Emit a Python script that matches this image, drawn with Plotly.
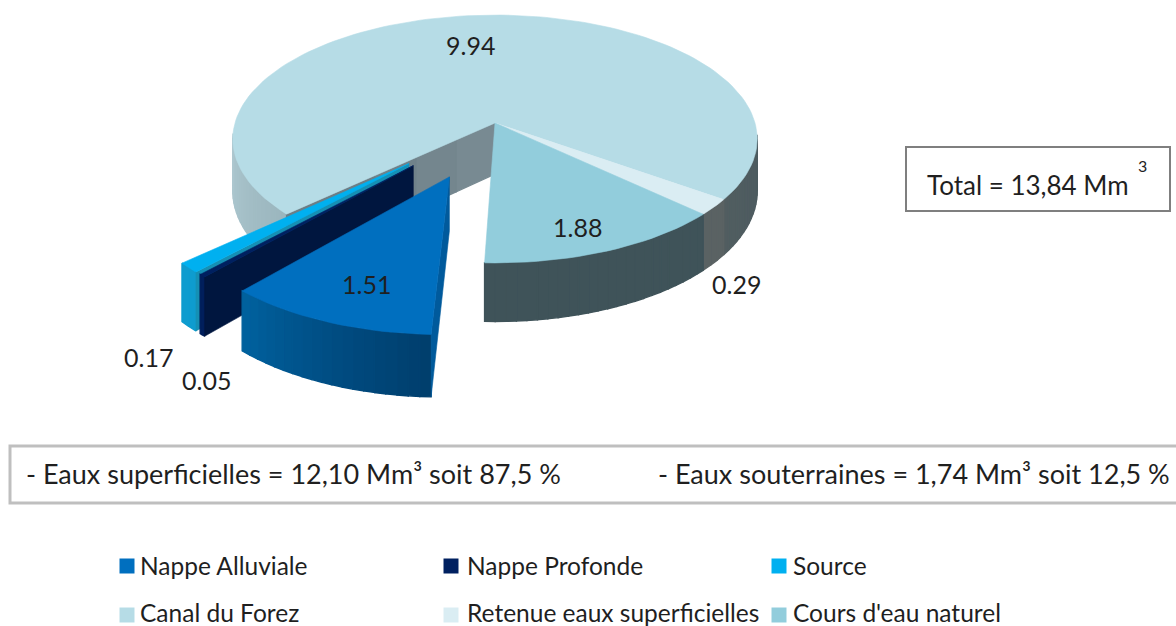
import math
import plotly.graph_objects as go

# ---- data ----
categories = ["Nappe Alluviale", "Nappe Profonde", "Source",
              "Canal du Forez", "Retenue eaux superficielles", "Cours d'eau naturel"]
values = [1.51, 0.05, 0.17, 9.94, 0.29, 1.88]
total_label = "Total = 13,84 Mm"
summary_labels = ["- Eaux superficielles = 12,10 Mm³ soit 87,5 %",
                  "- Eaux souterraines = 1,74 Mm³ soit 12,5 %"]

# ---- styles ----
top_colors = ["#006FBF", "#002060", "#00B0F0", "#B6DCE6", "#DAEDF3", "#92CDDC"]
explode = [0.45, 0.45, 0.45, 0, 0, 0]
# outer wall gradient stops: (angle in degrees clockwise from north, colour)
wall_stops = [
    [(182, "#003E6C"), (200, "#004C82"), (221.5, "#00629F")],
    [(221, "#001F5C"), (223, "#001F5C")],
    [(222, "#0E9CCF"), (228, "#0E9CCF")],
    [(90, "#4B5B60"), (125.6, "#515D60"), (180, "#7D959C"), (227, "#9BB6BE"), (270, "#B0CAD2"), (450, "#4B5B60"), (486, "#515D60")],
    [(125, "#5A6263"), (134, "#5A6263")],
    [(133, "#3F5359"), (160, "#3E5259"), (172, "#466169"), (182, "#587D88")],
]
start_angle = 182.0
CX, R = 495.0, 260.0
PC, PA, PB = 0.129, 106.0, 123.0   # perspective
WALL_H = 51.0
label_x = [366, 206, 148, 470, 736, 577]
label_y = [284, 380, 357, 45, 284, 227]
swatch_x = [127, 451, 779, 127, 451, 779]
legend_text_x = [140, 467, 793, 140, 467, 793]
legend_y = [566, 566, 566, 615, 615, 615]
legend_text_y = [569, 569, 569, 616, 616, 616]
TEXT = "#1F1F1F"
FONT = "Lato"


def proj(X, Y, z=0.0):
    d = 1 - PC * Y
    return CX + R * X / d, (PA * Y + PB) / d + z * WALL_H / d


def rim(theta, off):
    t = math.radians(theta)
    return off[0] + math.sin(t), off[1] - math.cos(t)


def hex2rgb(c):
    return [int(c[i:i + 2], 16) for i in (1, 3, 5)]


def grad(stops, a):
    for (a0, c0), (a1, c1) in zip(stops, stops[1:]):
        if a0 <= a <= a1:
            f = (a - a0) / (a1 - a0)
            r = [round(p + (q - p) * f) for p, q in zip(hex2rgb(c0), hex2rgb(c1))]
            return "rgb(%d,%d,%d)" % tuple(r)
    for st in (stops[0], stops[-1]):
        if abs(a - st[0]) < 5:
            return st[1]
    return stops[0][1]


fig = go.Figure()


def poly(pts, color, lw=0.6):
    xs = [p[0] for p in pts] + [pts[0][0]]
    ys = [p[1] for p in pts] + [pts[0][1]]
    fig.add_trace(go.Scatter(x=xs, y=ys, mode="lines", fill="toself", fillcolor=color,
                             line=dict(color=color, width=lw), hoverinfo="skip",
                             showlegend=False))


# slice angles from the values
tot = sum(values)
angles = []
a = start_angle
for v in values:
    angles.append((a, a + v / tot * 360))
    a += v / tot * 360
offs = []
for (a0, a1), e in zip(angles, explode):
    m = math.radians((a0 + a1) / 2)
    offs.append((e * math.sin(m), -e * math.cos(m)))


def wall(i):
    a0, a1 = angles[i]
    n = max(2, int((a1 - a0) / 2))
    seq = [(a0 + (a1 - a0) * k / n, a0 + (a1 - a0) * (k + 1) / n) for k in range(n)]
    seq = [s for s in seq if math.cos(math.radians((s[0] + s[1]) / 2)) < -0.08]
    for s0, s1 in seq:
        p0 = rim(s0, offs[i]); p1 = rim(s1, offs[i])
        poly([proj(*p0), proj(*p1), proj(*p1, 1), proj(*p0, 1)],
             grad(wall_stops[i], (s0 + s1) / 2), lw=1.4)


def face(i, theta, color):
    o = offs[i]
    p = rim(theta, o)
    poly([proj(*o), proj(*p), proj(*p, 1), proj(*o, 1)], color)


def top(i):
    a0, a1 = angles[i]
    n = max(2, int((a1 - a0) / 2))
    pts = [proj(*offs[i])]
    for k in range(n + 1):
        pts.append(proj(*rim(a0 + (a1 - a0) * k / n, offs[i])))
    poly(pts, top_colors[i])


# unexploded pie, back to front
wall(3)
# canal cut face, split into strips for its soft gradient
a_cut = angles[3][0]
p_end = rim(a_cut, offs[3])
cut_cols = ["#788A92", "#74868E", "#70828A", "#6C7E86", "#6C7E86"]
for k, col in enumerate(cut_cols):
    f0, f1 = k / 5, (k + 1) / 5
    q0 = (p_end[0] * f0, p_end[1] * f0)
    q1 = (p_end[0] * f1, p_end[1] * f1)
    poly([proj(*q0), proj(*q1), proj(*q1, 1), proj(*q0, 1)], col, lw=1.2)
top(3)
wall(4); top(4)
wall(5); top(5)

# exploded slices
wall(2)
face(2, angles[2][0], "#1590B5")
top(2)
wall(1)
face(1, angles[1][0], "#00163F")
top(1)
wall(0)
face(0, angles[0][0], "#005A9C")
top(0)

# legend: markers and their names
fig.add_trace(go.Scatter(x=swatch_x, y=legend_y, mode="markers",
                         marker=dict(symbol="square", size=15, color=top_colors),
                         hoverinfo="skip", showlegend=False))
fig.add_trace(go.Scatter(x=legend_text_x, y=legend_text_y, mode="text", text=categories,
                         textposition="middle right",
                         textfont=dict(family=FONT, size=24.5, color=TEXT),
                         hoverinfo="skip", showlegend=False))

# value labels
for x, y, v in zip(label_x, label_y, values):
    fig.add_annotation(x=x, y=y, text="%.2f" % v, showarrow=False,
                       font=dict(family=FONT, size=25, color=TEXT))

# boxes
fig.add_shape(type="rect", x0=906, y0=147, x1=1170, y1=211, line=dict(color="#7F7F7F", width=2))
fig.add_shape(type="rect", x0=10, y0=446, x1=1185, y1=503, line=dict(color="#BFBFBF", width=3))
fig.add_annotation(x=1028, y=185, text=total_label, showarrow=False,
                   font=dict(family=FONT, size=26, color=TEXT))
fig.add_annotation(x=1142, y=165, text="3", showarrow=False,
                   font=dict(family=FONT, size=16, color=TEXT))
for x, s in zip([24, 656], summary_labels):
    fig.add_annotation(x=x, y=473, text=s, showarrow=False, xanchor="left",
                       font=dict(family=FONT, size=27, color=TEXT))

fig.update_layout(width=1176, height=626, margin=dict(l=0, r=0, t=0, b=0), autosize=False,
                  paper_bgcolor="white", plot_bgcolor="white", showlegend=False,
                  xaxis=dict(range=[0, 1176], visible=False, fixedrange=True),
                  yaxis=dict(range=[626, 0], visible=False, fixedrange=True))
fig.write_html("out.html", config={"displayModeBar": False},
               post_script="document.body.style.margin='0';document.body.style.overflow='hidden';")
